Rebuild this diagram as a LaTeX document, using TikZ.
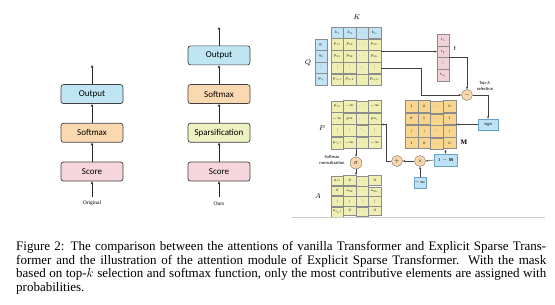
\documentclass[tikz,border=0pt]{standalone}
\usepackage{fix-cm}
\usepackage{amsmath}
\usepackage{fontspec}
\setmainfont{Liberation Serif}
\setsansfont{Carlito}
\usetikzlibrary{positioning,arrows.meta,matrix,calc}

\definecolor{outblue}{HTML}{BFE4F2}
\definecolor{softpeach}{HTML}{FAD9B0}
\definecolor{sparsgreen}{HTML}{EEF1C2}
\definecolor{scorepink}{HTML}{F4D6DC}
\definecolor{kblue}{HTML}{C2E3F3}
\definecolor{pyellow}{HTML}{EFEEB3}
\definecolor{tpink}{HTML}{F0D2D9}
\definecolor{mgold}{HTML}{F9D68E}
\definecolor{circpeach}{HTML}{FAD6AA}
\definecolor{boxblue}{HTML}{BFE1F4}
\definecolor{boxline}{HTML}{6A9FC8}

% small dots that follow the tiny cell font
\newcommand{\cvdots}{\vbox{\baselineskip=1.4pt\lineskiplimit=0pt\hbox{.}\hbox{.}\hbox{.}}}
\newcommand{\cddots}{\mathinner{\raise2.2pt\hbox{.}\mkern1mu\raise1.2pt\hbox{.}\mkern1mu\raise0.2pt\hbox{.}}}

\begin{document}
\begin{tikzpicture}[x=1pt,y=-1pt,
  box/.style={draw=black!75,line width=0.7pt,rounded corners=2.5pt,minimum width=62pt,minimum height=19pt,inner sep=0pt,font=\sffamily\fontsize{9}{10}\selectfont},
  arr/.style={draw=black!85,line width=0.7pt,-{Stealth[length=3pt,width=2.6pt]}},
  sublabel/.style={font=\fontsize{5.5}{6}\selectfont},
  cell/.style={draw=black!45,line width=0.35pt,minimum width=12.5pt,minimum height=11.5pt,inner sep=0pt,font=\fontsize{3.6}{4}\selectfont},
  mat/.style={matrix of math nodes,inner sep=0pt,outer sep=0pt,column sep=-0.35pt,row sep=-0.35pt},
  op/.style={circle,draw=black!55,fill=circpeach,line width=0.4pt,minimum size=11pt,inner sep=0pt,font=\fontsize{5}{5}\selectfont},
  opbox/.style={draw=boxline,fill=boxblue,line width=0.4pt,minimum height=11pt,inner sep=0pt,font=\fontsize{4.5}{5}\selectfont},
  link/.style={draw=black!75,line width=0.45pt,-{Stealth[length=2.5pt,width=2pt]}},
  letter/.style={font=\fontsize{7}{8}\selectfont},
  note/.style={font=\sffamily\fontsize{4.5}{5.5}\selectfont,align=center}
]
\useasboundingbox (0,0) rectangle (555,305);

% original attention
\node[box,fill=scorepink] (o-score) at (92,171.5) {Score};
\node[box,fill=softpeach,above=19pt of o-score] (o-soft) {Softmax};
\node[box,fill=outblue,above=19pt of o-soft] (o-out) {Output};
\coordinate (o-in) at (92,197);
\coordinate (o-top) at (92,65);
\draw[arr] (o-in) -- (o-score);
\draw[arr] (o-score) -- (o-soft);
\draw[arr] (o-soft) -- (o-out);
\draw[arr] (o-out) -- (o-top);
\node[sublabel] (o-lab) at (92,203.5) {Original};

% ours
\node[box,fill=scorepink] (s-score) at (219,171.5) {Score};
\node[box,fill=sparsgreen,above=19pt of s-score] (s-spars) {Sparsification};
\node[box,fill=softpeach,above=19pt of s-spars] (s-soft) {Softmax};
\node[box,fill=outblue,above=19pt of s-soft] (s-out) {Output};
\coordinate (s-in) at (219,197);
\coordinate (s-top) at (219,27);
\draw[arr] (s-in) -- (s-score);
\draw[arr] (s-score) -- (s-spars);
\draw[arr] (s-spars) -- (s-soft);
\draw[arr] (s-soft) -- (s-out);
\draw[arr] (s-out) -- (s-top);
\node[sublabel] (s-lab) at (219,203.5) {Ours};

% attention module
\matrix (K) [mat,nodes={cell,fill=kblue}] at (356,33) {k_1 & k_2 & \dots & k_{l_k}\\};
\matrix (Q) [mat,nodes={cell,fill=kblue,minimum width=12pt}] at (321,62) {q_1\\ q_2\\ \cvdots\\ q_{l_Q}\\};
\matrix (P) [mat,nodes={cell,fill=pyellow}] at (356,62) {
  p_{11} & p_{12} & \dots & p_{1l_k}\\
  p_{21} & p_{22} & \dots & p_{2l_k}\\
  \cvdots & \cvdots & \cddots & \cvdots\\
  p_{l_Q1} & p_{l_Q2} & \dots & p_{l_Ql_k}\\
};
\matrix (t) [mat,nodes={cell,fill=tpink,minimum width=12pt,minimum height=11.75pt}] at (443,57.5) {t_1\\ t_2\\ \cvdots\\ t_{l_Q}\\};
\matrix (M) [mat,nodes={cell,fill=mgold,minimum width=12.75pt}] at (430.5,125) {
  1 & 0 & \dots & 0\\
  0 & 1 & \dots & 1\\
  \vert & \vert & \cddots & \vert\\
  1 & 0 & \dots & 0\\
};
\matrix (P2) [mat,nodes={cell,fill=pyellow}] at (356,124.5) {
  p_{11} & -\infty & \dots & -\infty\\
  -\infty & p_{22} & \dots & p_{2l_k}\\
  \cvdots & \cvdots & \cddots & \cvdots\\
  p_{l_Q1} & -\infty & \dots & -\infty\\
};
\matrix (A) [mat,nodes={cell,fill=pyellow,minimum height=9.5pt}] at (356,196) {
  a_{11} & 0 & \dots & 0\\
  0 & a_{22} & \dots & a_{2l_k}\\
  \vert & \vert & \cddots & \vert\\
  a_{l_Q1} & 0 & \dots & 0\\
};

\node[letter] (k-lab) at (357,17) {$K$};
\node[letter] (q-lab) at (308,63) {$Q$};
\node[letter] (t-lab) at (455,48) {$t$};
\node[letter] (p-lab) at (322,128) {$P$};
\node[letter] (m-lab) at (464,142) {$\mathbf{M}$};
\node[letter] (a-lab) at (318,196) {$A$};

\node[op] (minus) at (467,95) {$-$};
\node[opbox,minimum width=20pt] (sign) at (488,124.5) {$\mathit{sign}$};
\node[opbox,minimum width=23pt,minimum height=12pt] (onem) at (445.5,160) {$1-\mathbf{M}$};
\node[op] (times) at (420,161) {$\times$};
\node[op] (plus) at (397,161) {$+$};
\node[opbox,minimum width=12pt] (ninf) at (420,182.5) {$-\infty$};
\node[op,minimum size=12pt,font=\fontsize{6}{6}\selectfont] (sigma) at (356,163) {$\sigma$};

\node[note] (topk) at (485,86) {Top-$k$\\selection};
\node[note] (softnorm) at (332,160) {Softmax\\normalization};

\draw[link] (t-2-1.west -| P.east) -- (t-2-1.west);
\draw[link] (P-3-4.east) -- ++(40,0) |- (minus.west);
\draw[link] (t-2-1.south east) -| (minus.north);
\draw[link] (minus.east) -| (sign.north);
\draw[link] (sign.west) -- (sign.west -| M.east);
\draw[link] (onem.north |- M.south) -- (onem.north);
\draw[link] (onem.west) -- (times.east);
\draw[link] (ninf.north) -- (times.south);
\draw[link] (times.west) -- (plus.east);
\draw[link] (plus.west) -- ++(-5,0) |- (P2.east);
\draw[link] (P2.south) -- (sigma.north);
\draw[link] (sigma.south) -- (A.north);
\draw[black!20,line width=0.5pt] (292,217.5) -- (545,217.5);

% caption
\node[anchor=north west,inner sep=0pt,text width=530pt,align=justify,font=\fontsize{13}{13.4}\selectfont] (caption) at (16,241.5) {Figure 2: The comparison between the attentions of vanilla Transformer and Explicit Sparse Trans-\linebreak former and the illustration of the attention module of Explicit Sparse Transformer. With the mask\linebreak based on top-$k$ selection and softmax function, only the most contributive elements are assigned with\linebreak probabilities.};
\end{tikzpicture}
\end{document}
